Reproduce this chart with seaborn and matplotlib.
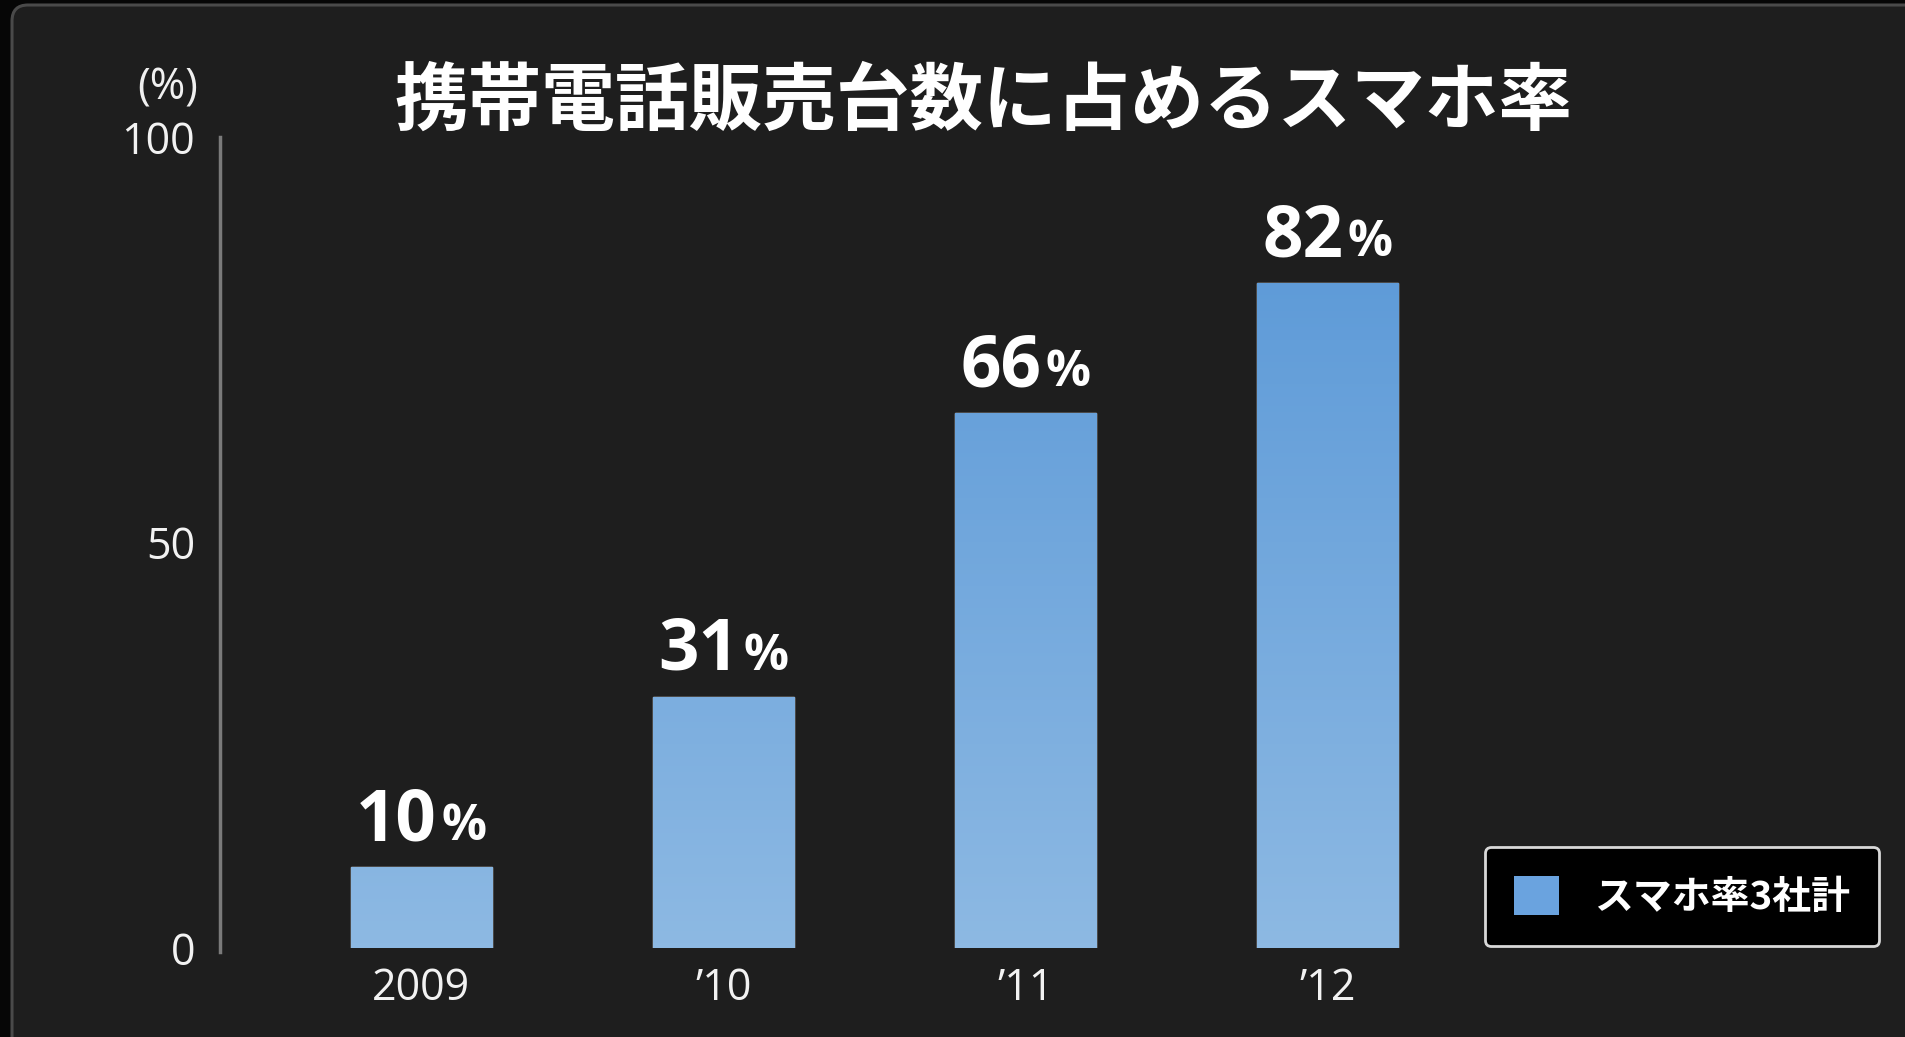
import matplotlib
matplotlib.use("Agg")
import matplotlib.pyplot as plt
import seaborn as sns
import numpy as np
import pandas as pd
from matplotlib.patches import FancyBboxPatch, Patch
from matplotlib.transforms import IdentityTransform
from matplotlib.offsetbox import TextArea, HPacker, AnnotationBbox
from matplotlib.colors import LinearSegmentedColormap

# ---- data ----
years = ["2009", "’10", "’11", "’12"]
share = [10, 31, 66, 82]
title = "携帯電話販売台数に占めるスマホ率"
legend_label = "スマホ率3社計"
yticks = [0, 50, 100]
ytick_labels = ["0", "50", "100"]
unit_label = "(%)"

sns.set_theme(style="dark")
plt.rcParams['font.family'] = ['Open Sans', 'Noto Sans CJK JP', 'DejaVu Sans']

W, H = 1906, 1037
fig = plt.figure(figsize=(W / 100, H / 100), dpi=100, facecolor="#060606")

# rounded panel background
bg = FancyBboxPatch((12, -40), W + 40, H - 5 + 40,
                    boxstyle="round,pad=0,rounding_size=16",
                    transform=IdentityTransform(), facecolor="#1e1e1e",
                    edgecolor="#4a4a4a", linewidth=2.2, zorder=-10)
fig.patches.append(bg)

ax = fig.add_axes([220 / W, 1 - 948 / H, (1880 - 220) / W, 811 / H])
ax.set_facecolor("none")

df = pd.DataFrame({"year": years, "share": share})
sns.barplot(data=df, x="year", y="share", ax=ax, color="#74aadf",
            width=0.467, saturation=1, errorbar=None)

# vertical gradient fill of bars
cmap = LinearSegmentedColormap.from_list("g", ["#8db9e3", "#5595d6"])
grad = np.linspace(0, 1, 256).reshape(-1, 1)
bars = list(ax.patches)
for p in bars:
    x0, w = p.get_x(), p.get_width()
    im = ax.imshow(grad, cmap=cmap, extent=[x0, x0 + w, 0, 100], origin="lower",
                   aspect="auto", zorder=p.get_zorder() + 0.1, interpolation="bilinear")
    im.set_clip_path(p)

# value labels (big number + smaller %)
for p, v in zip(bars, share):
    num = TextArea(str(v), textprops=dict(color="white", fontsize=51, fontweight="bold",
                                          family=["Open Sans", "DejaVu Sans"]))
    pct = TextArea("%", textprops=dict(color="white", fontsize=36, fontweight="bold",
                                       family=["Open Sans", "DejaVu Sans"]))
    box = HPacker(children=[num, pct], align="baseline", pad=0, sep=3)
    ab = AnnotationBbox(box, (p.get_x() + p.get_width() / 2, p.get_height()),
                        xybox=(0, 7), xycoords="data", boxcoords="offset points",
                        box_alignment=(0.5, 0), frameon=False)
    ax.add_artist(ab)

ax.set_xlim(-0.666, 4.83)
ax.set_ylim(0, 100)
ax.set_yticks(yticks)
ax.set_yticklabels(ytick_labels)
ax.set_xlabel("")
ax.set_ylabel("")
ax.grid(False)
for s in ["top", "right", "bottom"]:
    ax.spines[s].set_visible(False)
ax.spines["left"].set_color("#7a7a7a")
ax.spines["left"].set_linewidth(2.5)
ax.spines["left"].set_bounds(-0.5, 100)
ax.tick_params(axis="y", length=0, pad=18, labelsize=31, labelcolor="#f2f2f2")
ax.tick_params(axis="x", length=0, pad=13, labelsize=31, labelcolor="#f2f2f2")

fig.text(0.516, 1 - 103 / H, title, ha="center", va="center", fontsize=53,
         fontweight="bold", color="white", family=["Noto Sans CJK JP", "DejaVu Sans"])
fig.text(168 / W, 1 - 88 / H, unit_label, ha="center", va="center", fontsize=31,
         color="#f0f0f0")

handle = Patch(facecolor="#6aa3df", edgecolor="none")
leg = fig.legend([handle], [legend_label], loc="lower right",
                 bbox_to_anchor=(1879 / W, 1 - 946 / H), frameon=True, fancybox=True,
                 facecolor="black", edgecolor="#d8d8d8", framealpha=1,
                 prop=dict(family=["Noto Sans CJK JP", "DejaVu Sans"], size=28, weight="bold"),
                 labelcolor="white", handlelength=1.15, handleheight=1.15,
                 borderpad=0.75, handletextpad=0.9, borderaxespad=0)
leg.get_frame().set_linewidth(2)
leg.get_frame().set_boxstyle("round,pad=0,rounding_size=0.15")

fig.savefig("out.png", dpi=100, facecolor=fig.get_facecolor())
